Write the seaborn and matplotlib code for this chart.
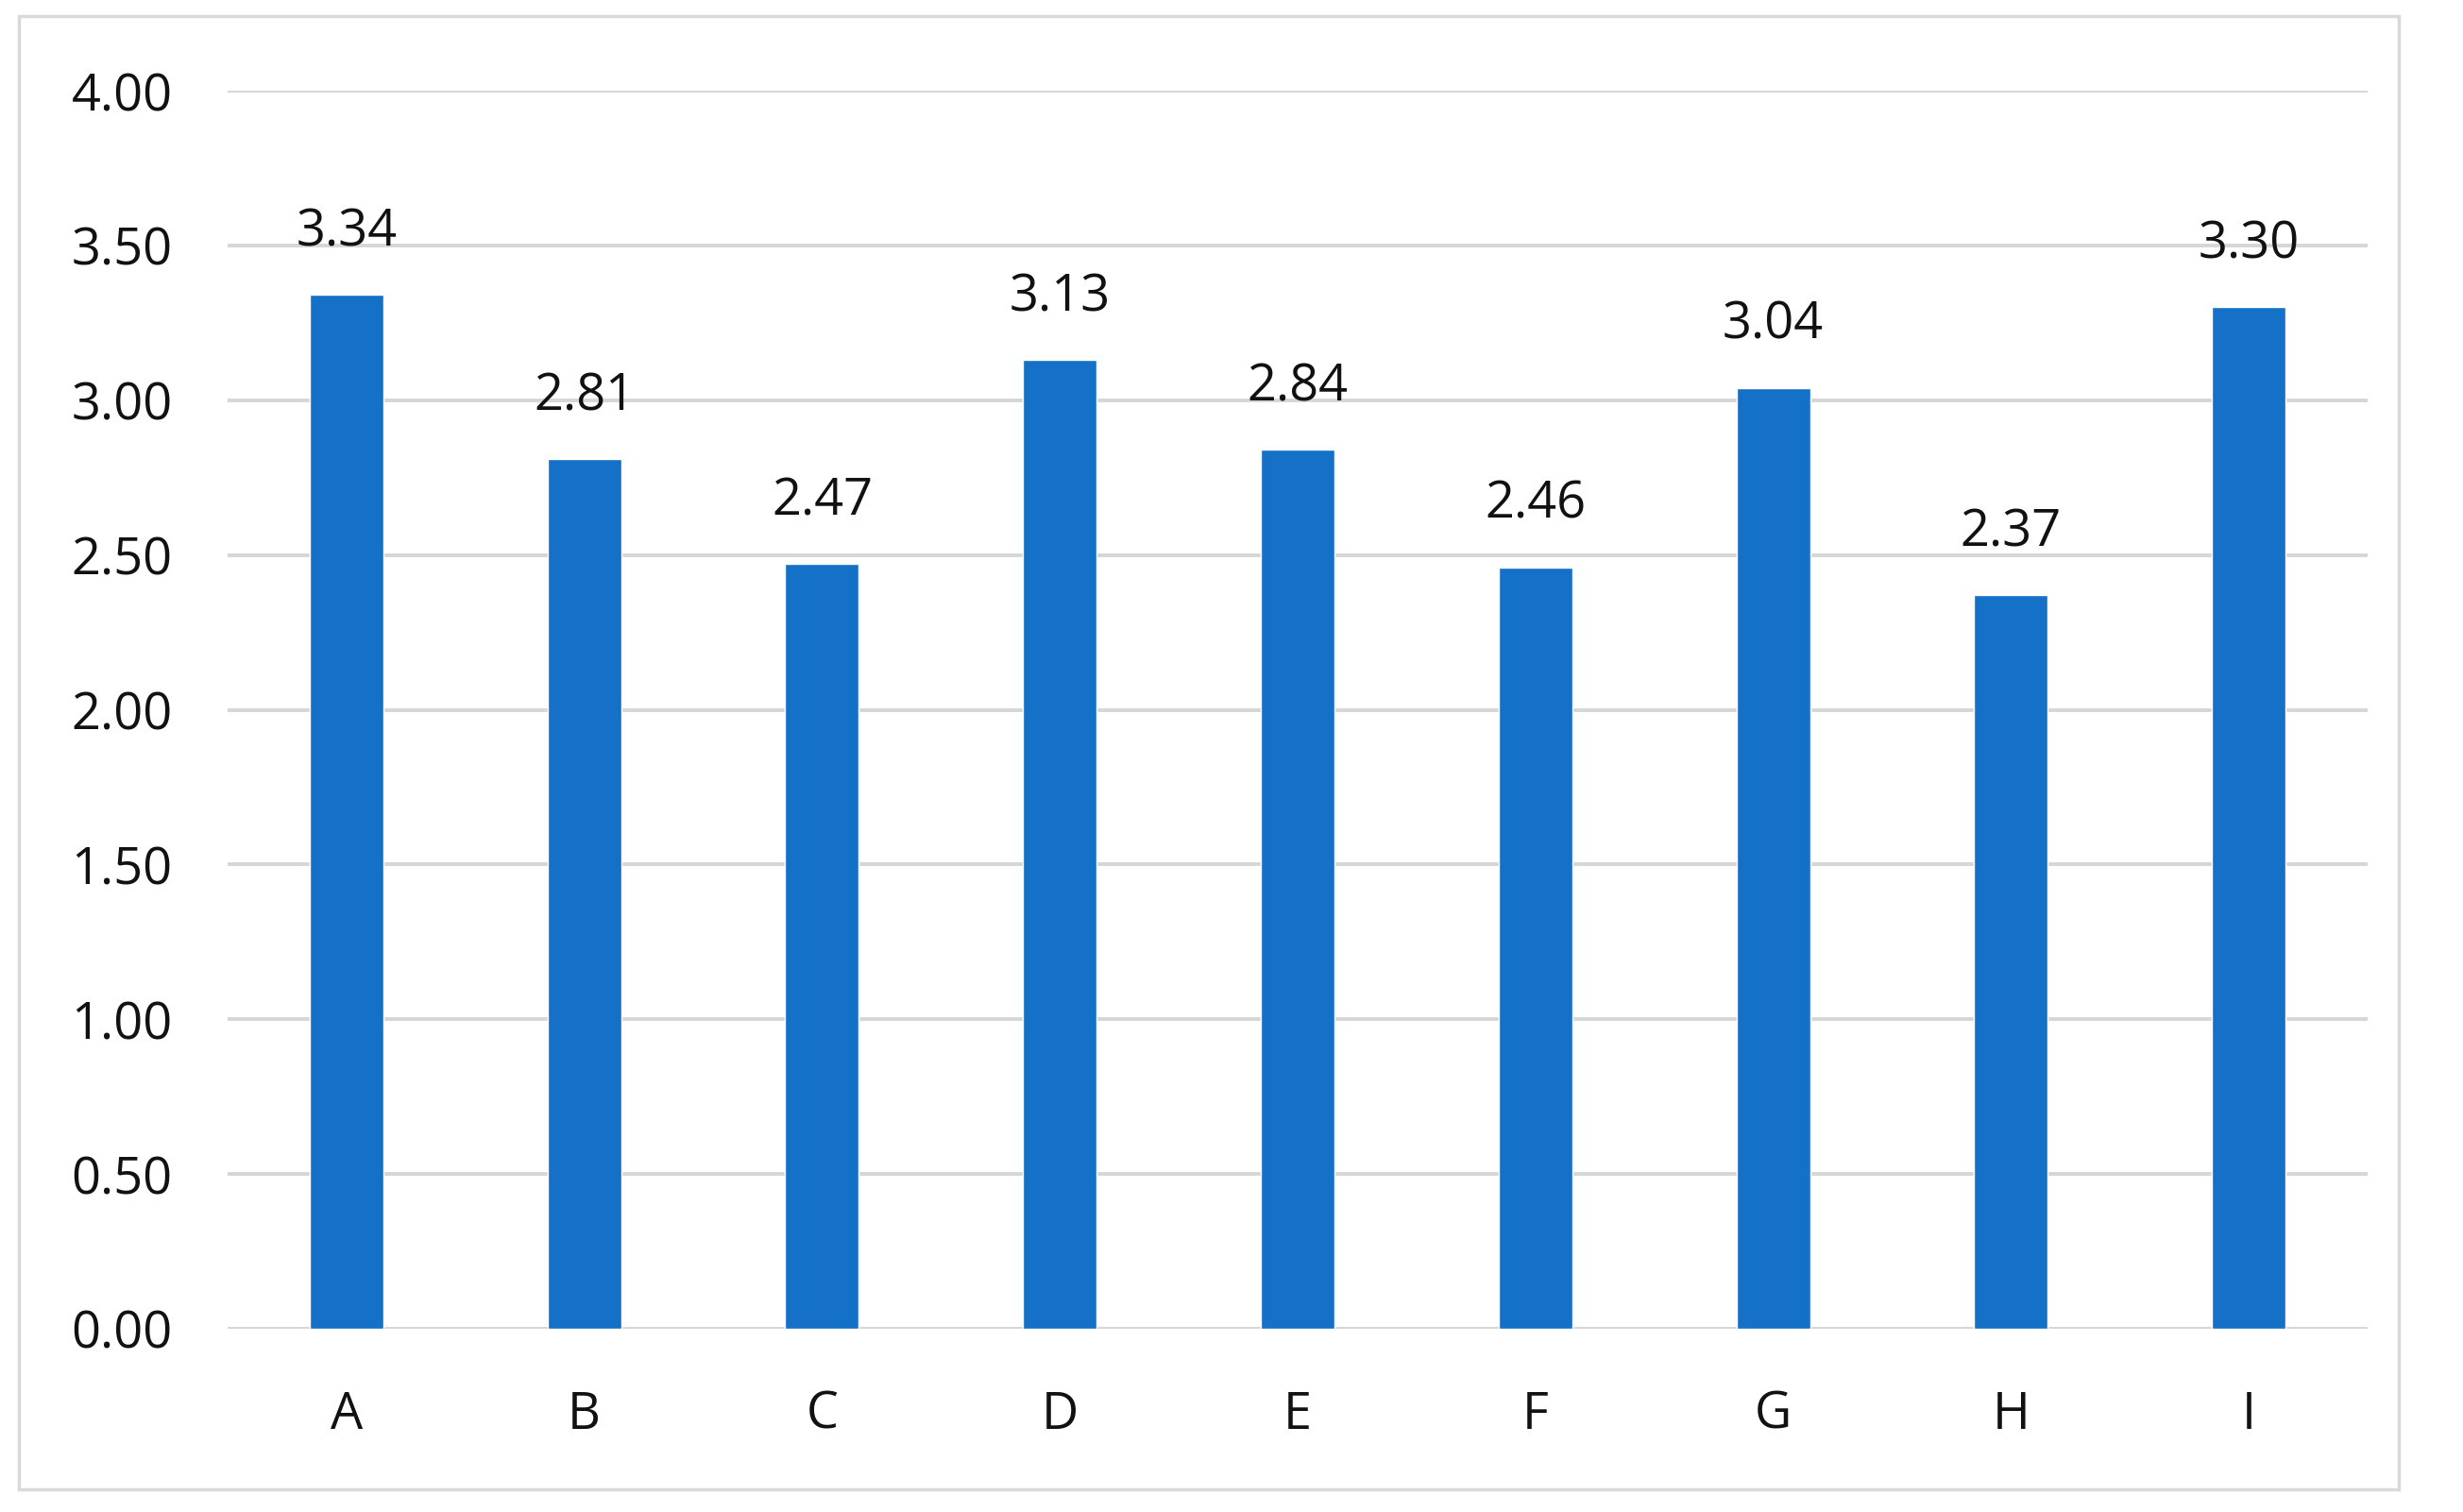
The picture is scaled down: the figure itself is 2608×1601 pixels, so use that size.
import matplotlib
matplotlib.use("Agg")
import matplotlib.pyplot as plt
import seaborn as sns
import pandas as pd
from matplotlib.patches import Rectangle

# values
categories = ["A", "B", "C", "D", "E", "F", "G", "H", "I"]
values = [3.34, 2.81, 2.47, 3.13, 2.84, 2.46, 3.04, 2.37, 3.30]
y_ticks = [0.0, 0.5, 1.0, 1.5, 2.0, 2.5, 3.0, 3.5, 4.0]

df = pd.DataFrame({"cat": categories, "val": values})

sns.set_theme(style="white")
plt.rcParams["font.family"] = ["Open Sans", "DejaVu Sans"]

fig = plt.figure(figsize=(26.08, 16.01), dpi=100)
ax = fig.add_axes([0.0924, 0.1212, 0.8689, 0.8188])

sns.barplot(data=df, x="cat", y="val", color="#1570C8", saturation=1,
            width=0.31, ax=ax)

ax.set_ylim(0, 4)
ax.set_xlim(-0.5, 8.5)
ax.set_yticks(y_ticks)
ax.set_yticklabels([f"{t:.2f}" for t in y_ticks])
ax.yaxis.grid(True, color="#d6d6d6", linewidth=2.8)
ax.set_axisbelow(True)
ax.set_xlabel("")
ax.set_ylabel("")
for s in ax.spines.values():
    s.set_visible(False)
ax.tick_params(axis="y", length=0, pad=42, labelsize=39, labelcolor="#111111")
ax.tick_params(axis="x", length=0, pad=46, labelsize=39, labelcolor="#111111")

ax.bar_label(ax.containers[0], labels=[f"{v:.2f}" for v in values],
             padding=28, fontsize=39, color="#111111")

# light frame round the whole chart
fig.patches.append(Rectangle((0.0077, 0.015), 0.9662, 0.9745, transform=fig.transFigure,
                             fill=False, edgecolor="#d9d9d9", linewidth=2.5))

fig.savefig("out.png", dpi=100, facecolor="white")
